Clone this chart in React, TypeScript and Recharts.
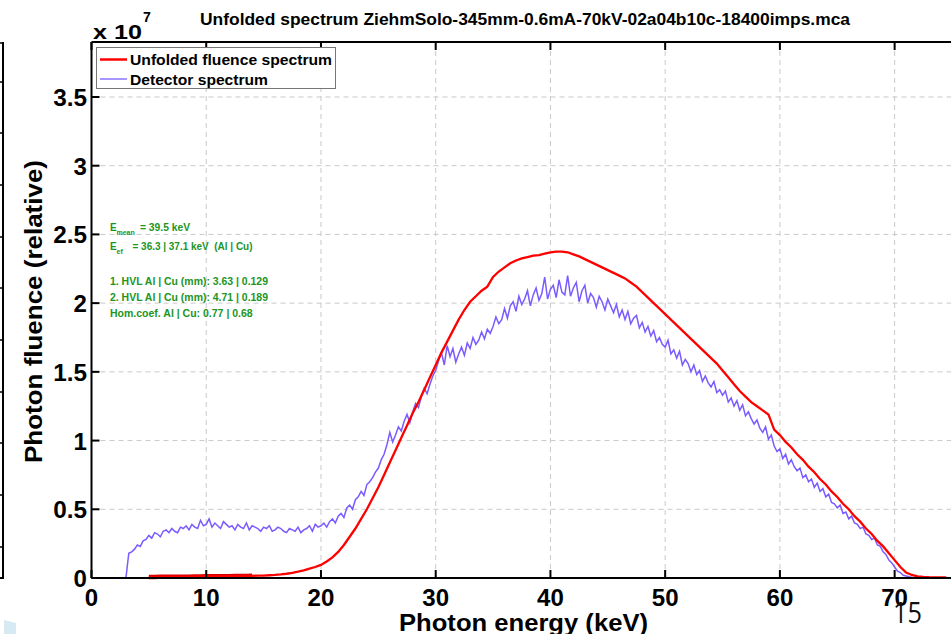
import React from 'react';
import { LineChart, Line, XAxis, YAxis, CartesianGrid, Legend } from 'recharts';

// Detector spectrum (x 10^7), 0.25 keV bins starting at 0 keV
const ENERGY_STEP_KEV = 0.25;
const detectorSpectrum = [
  // 0 - 4.75 keV
  0, 0, 0, 0, 0, 0, 0, 0, 0, 0, 0, 0, 0, 0.18, 0.19, 0.21, 0.24, 0.23, 0.27, 0.28,
  // 5 - 9.75 keV
  0.31, 0.29, 0.33, 0.32, 0.30, 0.34, 0.35, 0.33, 0.36, 0.34, 0.33, 0.37, 0.36, 0.38, 0.35, 0.39, 0.37, 0.36, 0.42, 0.38,
  // 10 - 14.75 keV
  0.39, 0.43, 0.37, 0.40, 0.38, 0.36, 0.41, 0.39, 0.37, 0.38, 0.35, 0.39, 0.37, 0.36, 0.40, 0.35, 0.38, 0.37, 0.36, 0.34,
  // 15 - 19.75 keV
  0.37, 0.36, 0.38, 0.34, 0.35, 0.37, 0.36, 0.34, 0.33, 0.36, 0.35, 0.34, 0.37, 0.33, 0.35, 0.36, 0.38, 0.34, 0.39, 0.37,
  // 20 - 24.75 keV
  0.38, 0.40, 0.37, 0.41, 0.43, 0.40, 0.45, 0.47, 0.44, 0.51, 0.53, 0.50, 0.57, 0.59, 0.63, 0.60, 0.68, 0.70, 0.73, 0.77,
  // 25 - 29.75 keV
  0.80, 0.86, 0.90, 0.97, 1.06, 0.99, 1.04, 1.10, 1.07, 1.14, 1.19, 1.13, 1.21, 1.27, 1.24, 1.32, 1.38, 1.34, 1.41, 1.47,
  // 30 - 34.75 keV
  1.51, 1.58, 1.64, 1.55, 1.69, 1.61, 1.67, 1.57, 1.63, 1.68, 1.62, 1.71, 1.67, 1.75, 1.70, 1.73, 1.79, 1.74, 1.81, 1.78,
  // 35 - 39.75 keV
  1.83, 1.90, 1.85, 1.88, 1.96, 1.89, 1.98, 2.01, 1.94, 2.05, 1.99, 2.03, 2.09, 1.98, 2.06, 2.11, 2.02, 2.07, 2.19, 2.03,
  // 40 - 44.75 keV
  2.10, 2.13, 2.04, 2.17, 2.08, 2.06, 2.20, 2.05, 2.11, 2.15, 2.01, 2.09, 2.13, 2.00, 2.07, 2.04, 1.97, 2.05, 2.01, 1.95,
  // 45 - 49.75 keV
  2.03, 1.98, 1.93, 1.99, 1.90, 1.95, 1.88, 1.94, 1.85, 1.89, 1.91, 1.82, 1.86, 1.79, 1.83, 1.76, 1.80, 1.72, 1.75, 1.70,
  // 50 - 54.75 keV
  1.68, 1.73, 1.63, 1.66, 1.60, 1.65, 1.55, 1.59, 1.56, 1.50, 1.55, 1.48, 1.51, 1.43, 1.47, 1.42, 1.39, 1.43, 1.35, 1.37,
  // 55 - 59.75 keV
  1.33, 1.36, 1.28, 1.31, 1.25, 1.29, 1.22, 1.26, 1.18, 1.21, 1.16, 1.12, 1.15, 1.09, 1.06, 1.10, 1.01, 1.04, 0.96, 0.92,
  // 60 - 64.75 keV
  0.94, 0.87, 0.90, 0.83, 0.86, 0.81, 0.78, 0.80, 0.73, 0.75, 0.70, 0.72, 0.66, 0.69, 0.63, 0.65, 0.59, 0.61, 0.55, 0.54,
  // 65 - 69.75 keV
  0.51, 0.53, 0.47, 0.48, 0.43, 0.45, 0.40, 0.39, 0.36, 0.37, 0.32, 0.31, 0.28, 0.29, 0.24, 0.23, 0.19, 0.17, 0.13, 0.11,
  // 70 - 74.75 keV
  0.08, 0.05, 0.04, 0.02, 0.015, 0.01, 0.006, 0.004, 0.003, 0.002, 0, 0, 0, 0, 0, 0, 0, 0, 0, 0,
];

// Unfolded fluence spectrum (x 10^7), 0.5 keV steps starting at 5 keV
const UNFOLDED_START_KEV = 5;
const UNFOLDED_STEP_KEV = 0.5;
const unfoldedFluence = [
  // 5 - 9.5 keV
  0.008, 0.008, 0.009, 0.009, 0.010, 0.010, 0.010, 0.010, 0.011, 0.011,
  // 10 - 14.5 keV
  0.012, 0.012, 0.012, 0.013, 0.013, 0.014, 0.014, 0.015, 0.016, 0.017,
  // 15 - 19.5 keV
  0.018, 0.020, 0.022, 0.026, 0.031, 0.038, 0.046, 0.056, 0.068, 0.080,
  // 20 - 24.5 keV
  0.095, 0.12, 0.15, 0.19, 0.24, 0.30, 0.36, 0.43, 0.50, 0.58,
  // 25 - 29.5 keV
  0.66, 0.75, 0.84, 0.93, 1.02, 1.11, 1.20, 1.28, 1.37, 1.46,
  // 30 - 34.5 keV
  1.55, 1.64, 1.72, 1.80, 1.88, 1.95, 2.01, 2.05, 2.09, 2.12,
  // 35 - 39.5 keV
  2.19, 2.23, 2.26, 2.29, 2.31, 2.325, 2.335, 2.345, 2.35, 2.36,
  // 40 - 44.5 keV
  2.37, 2.375, 2.375, 2.37, 2.355, 2.34, 2.32, 2.30, 2.28, 2.26,
  // 45 - 49.5 keV
  2.24, 2.22, 2.20, 2.18, 2.15, 2.12, 2.08, 2.04, 2.00, 1.96,
  // 50 - 54.5 keV
  1.92, 1.88, 1.84, 1.80, 1.76, 1.72, 1.68, 1.64, 1.60, 1.56,
  // 55 - 59.5 keV
  1.51, 1.46, 1.41, 1.36, 1.32, 1.28, 1.25, 1.22, 1.19, 1.08,
  // 60 - 64.5 keV
  1.04, 0.99, 0.95, 0.90, 0.86, 0.81, 0.77, 0.72, 0.68, 0.63,
  // 65 - 69.5 keV
  0.59, 0.54, 0.50, 0.45, 0.41, 0.36, 0.32, 0.27, 0.23, 0.18,
  // 70 - 74.5 keV
  0.13, 0.08, 0.04, 0.022, 0.012, 0.008, 0.006, 0.005, 0.005, 0.005,
];
// The low-energy part of the unfolded curve is drawn heavier
const UNFOLDED_LOW_END_KEV = 14;

const xTicks = [0, 10, 20, 30, 40, 50, 60, 70];
const yTicks = [0, 0.5, 1, 1.5, 2, 2.5, 3, 3.5];

const seriesNames = {
  unfolded: 'Unfolded fluence spectrum',
  detector: 'Detector spectrum',
};
const legendOrder = ['unfolded', 'detector'];

const infoLines = {
  mean: '= 39.5 keV',
  effective: '= 36.3 | 37.1 keV  (Al | Cu)',
  hvl1: '1. HVL Al | Cu (mm): 3.63 | 0.129',
  hvl2: '2. HVL Al | Cu (mm): 4.71 | 0.189',
  hom: 'Hom.coef. Al | Cu: 0.77 | 0.68',
};

const TITLE = 'Unfolded spectrum ZiehmSolo-345mm-0.6mA-70kV-02a04b10c-18400imps.mca';

const data = detectorSpectrum.map((d, i) => {
  const energy = i * ENERGY_STEP_KEV;
  const j = (energy - UNFOLDED_START_KEV) / UNFOLDED_STEP_KEV;
  const u = Number.isInteger(j) && j >= 0 && j < unfoldedFluence.length ? unfoldedFluence[j] : null;
  return {
    energy,
    detector: d,
    unfolded: u,
    unfoldedLow: u !== null && energy <= UNFOLDED_LOW_END_KEV ? u : null,
  };
});

// Layout
const W = 951;
const H = 634;
const CHART_W = 953;
const FRAME = { left: 91.5, top: 42, bottom: 578 };
const FONT = '"Liberation Sans", Arial, Helvetica, sans-serif';
const RED = '#ff0000';
const VIOLET = '#7b5bff';
const GREEN = '#20951f';
const TICK_LEN = 8;

const labelWidth = (s: string) =>
  s.split('').reduce((acc, ch) => acc + (ch === '.' ? 7 : 13.4), 0);

const XTick = (props: any) => {
  const { x, payload } = props;
  const label = String(payload.value);
  return (
    <g>
      <line x1={x} x2={x} y1={FRAME.bottom} y2={FRAME.bottom - TICK_LEN} stroke="#000" strokeWidth={2} />
      <line x1={x} x2={x} y1={FRAME.top} y2={FRAME.top + TICK_LEN} stroke="#000" strokeWidth={2} />
      <text
        x={x}
        y={606}
        textAnchor="middle"
        fontFamily={FONT}
        fontWeight="bold"
        fontSize={23}
        fill="#000"
        textLength={labelWidth(label)}
        lengthAdjust="spacingAndGlyphs"
      >
        {label}
      </text>
    </g>
  );
};

const YTick = (props: any) => {
  const { y, payload } = props;
  const label = String(payload.value);
  return (
    <g>
      <line x1={FRAME.left} x2={FRAME.left + TICK_LEN} y1={y} y2={y} stroke="#000" strokeWidth={2} />
      <text
        x={87}
        y={y + 9}
        textAnchor="end"
        fontFamily={FONT}
        fontWeight="bold"
        fontSize={23}
        fill="#000"
        textLength={labelWidth(label)}
        lengthAdjust="spacingAndGlyphs"
      >
        {label}
      </text>
    </g>
  );
};

const LegendBox = (props: any) => {
  const payload = props.payload || [];
  const items = legendOrder
    .map((k) => payload.find((p: any) => p.dataKey === k))
    .filter(Boolean);
  return (
    <div
      style={{
        width: 240,
        height: 42,
        border: '1px solid #777',
        background: '#fff',
        boxSizing: 'border-box',
      }}
    >
      <svg width={238} height={40} style={{ display: 'block' }}>
        {items.map((it: any, i: number) => (
          <g key={it.dataKey}>
            <line
              x1={3}
              x2={30}
              y1={11.5 + i * 19.5}
              y2={11.5 + i * 19.5}
              stroke={it.color}
              strokeWidth={it.dataKey === 'unfolded' ? 2.5 : 1.3}
            />
            <text
              x={33}
              y={16.5 + i * 20}
              fontFamily={FONT}
              fontWeight="bold"
              fontSize={15}
              fill="#000"
              textLength={it.dataKey === 'unfolded' ? 202 : 138}
              lengthAdjust="spacingAndGlyphs"
            >
              {it.value}
            </text>
          </g>
        ))}
      </svg>
    </div>
  );
};

const Annotations = () => (
  <svg
    width={W}
    height={H}
    style={{ position: 'absolute', left: 0, top: 0, pointerEvents: 'none' }}
  >
    {/* top frame of the axes */}
    <line x1={FRAME.left} x2={W} y1={FRAME.top} y2={FRAME.top} stroke="#000" strokeWidth={2} />

    {/* neighbouring panel edge */}
    <line x1={3} x2={3} y1={FRAME.top} y2={FRAME.bottom} stroke="#000" strokeWidth={2} />
    {[43, 82, 133, 185, 237, 288, 340, 392, 443, 495, 547].map((y) => (
      <line key={y} x1={0} x2={3} y1={y} y2={y} stroke="#000" strokeWidth={1.5} />
    ))}
    <line x1={0} x2={4} y1={FRAME.bottom} y2={FRAME.bottom} stroke="#000" strokeWidth={2} />
    <polygon points="4,620 16,623 16,634 4,634" fill="#d7e9f2" />

    {/* title */}
    <text
      x={200}
      y={25}
      fontFamily={FONT}
      fontWeight="bold"
      fontSize={16}
      fill="#000"
      textLength={650}
      lengthAdjust="spacingAndGlyphs"
    >
      {TITLE}
    </text>

    {/* exponent */}
    <text x={93} y={39} fontFamily={FONT} fontWeight="bold" fontSize={21} fill="#000" textLength={49} lengthAdjust="spacingAndGlyphs">
      x 10
    </text>
    <text x={143} y={21.5} fontFamily={FONT} fontWeight="bold" fontSize={14} fill="#000">
      7
    </text>

    {/* axis labels */}
    <text
      x={41.5}
      y={311.5}
      transform="rotate(-90 41.5 311.5)"
      textAnchor="middle"
      fontFamily={FONT}
      fontWeight="bold"
      fontSize={23}
      fill="#000"
      textLength={303}
      lengthAdjust="spacingAndGlyphs"
    >
      Photon fluence (relative)
    </text>
    <text
      x={523.5}
      y={630.5}
      textAnchor="middle"
      fontFamily={FONT}
      fontWeight="bold"
      fontSize={23}
      fill="#000"
      textLength={249}
      lengthAdjust="spacingAndGlyphs"
    >
      Photon energy (keV)
    </text>

    {/* spectrum parameters */}
    <g fontFamily={FONT} fontWeight="bold" fill={GREEN}>
      <text x={110} y={230.5} fontSize={10}>E</text>
      <text x={116.5} y={234.5} fontSize={7}>mean</text>
      <text x={140} y={230.5} fontSize={10} textLength={50} lengthAdjust="spacingAndGlyphs">
        {infoLines.mean}
      </text>
      <text x={110} y={250} fontSize={10}>E</text>
      <text x={116.5} y={254} fontSize={7}>ef</text>
      <text x={132.5} y={250} fontSize={10} textLength={120} lengthAdjust="spacingAndGlyphs" style={{ whiteSpace: 'pre' }}>
        {infoLines.effective}
      </text>
      <text x={110} y={285} fontSize={10} textLength={158} lengthAdjust="spacingAndGlyphs">
        {infoLines.hvl1}
      </text>
      <text x={110} y={300.7} fontSize={10} textLength={158} lengthAdjust="spacingAndGlyphs">
        {infoLines.hvl2}
      </text>
      <text x={110} y={316.7} fontSize={10} textLength={142.7} lengthAdjust="spacingAndGlyphs">
        {infoLines.hom}
      </text>
    </g>

    {/* page number */}
    <text
      x={893}
      y={623}
      fontFamily='"Open Sans", "Liberation Sans", sans-serif'
      fontSize={30}
      fill="#111"
      textLength={29}
      lengthAdjust="spacingAndGlyphs"
    >
      15
    </text>
  </svg>
);

export default function App() {
  return (
    <div
      style={{
        position: 'absolute',
        left: 0,
        top: 0,
        width: W,
        height: H,
        overflow: 'hidden',
        background: '#fff',
      }}
    >
      <LineChart
        width={CHART_W}
        height={H}
        data={data}
        margin={{ top: FRAME.top, right: 1, bottom: 0, left: 0 }}
      >
        <CartesianGrid
          stroke="#c9c9c9"
          strokeDasharray="5 4"
          strokeWidth={1}
        />
        <XAxis
          dataKey="energy"
          type="number"
          domain={[0, 75]}
          ticks={xTicks}
          height={H - FRAME.bottom}
          axisLine={{ stroke: '#000', strokeWidth: 2 }}
          tickLine={false}
          tick={<XTick />}
          interval={0}
        />
        <YAxis
          type="number"
          domain={[0, 3.9]}
          ticks={yTicks}
          width={FRAME.left}
          axisLine={{ stroke: '#000', strokeWidth: 2 }}
          tickLine={false}
          tick={<YTick />}
          interval={0}
        />
        <Legend
          layout="vertical"
          align="center"
          verticalAlign="middle"
          wrapperStyle={{ left: 96, top: 47, width: 240, height: 42 }}
          content={<LegendBox />}
        />
        <Line
          dataKey="detector"
          name={seriesNames.detector}
          stroke={VIOLET}
          strokeWidth={1.5}
          dot={false}
          type="linear"
          isAnimationActive={false}
        />
        <Line
          dataKey="unfoldedLow"
          stroke="#d00000"
          strokeWidth={4.5}
          dot={false}
          type="linear"
          legendType="none"
          connectNulls
          isAnimationActive={false}
        />
        <Line
          dataKey="unfolded"
          name={seriesNames.unfolded}
          stroke={RED}
          strokeWidth={2.3}
          dot={false}
          type="linear"
          connectNulls
          isAnimationActive={false}
        />
      </LineChart>
      <Annotations />
    </div>
  );
}
